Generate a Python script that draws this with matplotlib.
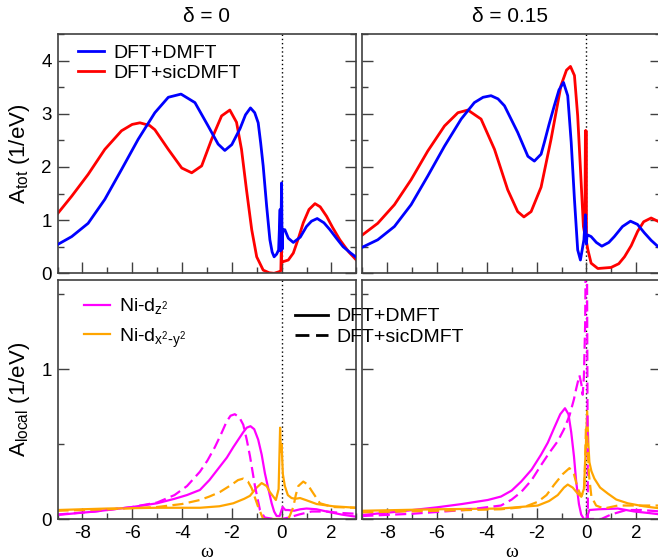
import matplotlib
matplotlib.use("Agg")
import matplotlib.pyplot as plt
from matplotlib.lines import Line2D
from matplotlib.ticker import MultipleLocator

plt.rcParams["font.family"] = ["Liberation Sans", "DejaVu Sans"]
plt.rcParams["axes.unicode_minus"] = False

# ---- data (omega in eV, spectra in 1/eV) ----
# total spectral function, delta = 0
TOT0_DMFT_W = [-9.0, -8.43, -7.77, -7.10, -6.43, -5.76, -5.09, -4.55, -4.04, -3.48, -2.95,
               -2.55, -2.28, -2.0, -1.67, -1.45, -1.25, -1.08, -0.94, -0.84, -0.74, -0.6,
               -0.47, -0.38, -0.30, -0.2, -0.12, -0.06, -0.04, 0.0, 0.02, 0.05, 0.13, 0.27,
               0.47, 0.75, 1.0, 1.2, 1.43, 1.7, 1.94, 2.2, 2.47, 2.75, 3.0]
TOT0_DMFT_A = [0.54, 0.69, 0.94, 1.39, 1.95, 2.52, 3.02, 3.31, 3.37, 3.21, 2.77,
               2.43, 2.31, 2.42, 2.72, 2.98, 3.11, 3.02, 2.83, 2.45, 2.02, 1.26,
               0.63, 0.4, 0.31, 0.36, 0.44, 1.2, 0.42, 1.7, 0.45, 0.82, 0.82, 0.66,
               0.58, 0.68, 0.88, 0.98, 1.03, 0.95, 0.82, 0.66, 0.5, 0.39, 0.3]
TOT0_SIC_W = [-9.0, -8.43, -7.77, -7.10, -6.43, -6.0, -5.69, -5.3, -5.09, -4.55, -4.01,
              -3.61, -3.21, -2.81, -2.41, -2.08, -1.81, -1.61, -1.41, -1.2, -1.0, -0.74,
              -0.5, -0.3, -0.1, -0.03, -0.01, 0.0, 0.03, 0.07, 0.27, 0.47, 0.67, 0.87,
              1.1, 1.34, 1.55, 1.81, 2.05, 2.34, 2.7, 3.0]
TOT0_SIC_A = [1.12, 1.45, 1.86, 2.33, 2.68, 2.80, 2.83, 2.78, 2.70, 2.33, 1.98,
              1.89, 2.02, 2.52, 2.96, 3.07, 2.84, 2.33, 1.57, 0.82, 0.31, 0.06,
              0.01, 0.0, 0.03, 0.05, 0.53, 0.2, 0.22, 0.22, 0.25, 0.38, 0.65, 0.95,
              1.2, 1.31, 1.25, 1.07, 0.86, 0.63, 0.4, 0.25]

# total spectral function, delta = 0.15
TOT15_DMFT_W = [-9.0, -8.38, -7.71, -7.04, -6.37, -5.70, -5.03, -4.50, -4.15, -3.83, -3.55,
                -3.29, -2.76, -2.35, -2.09, -1.82, -1.69, -1.5, -1.29, -1.1, -0.92, -0.75,
                -0.61, -0.48, -0.35, -0.24, -0.1, -0.04, 0.0, 0.02, 0.06, 0.19, 0.4, 0.62,
                0.9, 1.12, 1.45, 1.77, 2.05, 2.33, 2.6, 3.0]
TOT15_DMFT_A = [0.49, 0.63, 0.88, 1.29, 1.83, 2.39, 2.90, 3.21, 3.31, 3.34, 3.28,
                3.15, 2.65, 2.20, 2.11, 2.24, 2.46, 2.8, 3.15, 3.45, 3.59, 3.34,
                2.46, 1.39, 0.44, 0.25, 0.63, 1.10, 0.55, 0.68, 0.72, 0.69, 0.58, 0.51,
                0.58, 0.69, 0.88, 0.98, 0.92, 0.76, 0.62, 0.45]
TOT15_SIC_W = [-9.0, -8.38, -7.71, -7.04, -6.37, -5.70, -5.16, -4.76, -4.23, -3.69, -3.16,
               -2.76, -2.51, -2.22, -1.82, -1.42, -1.02, -0.80, -0.64, -0.48, -0.35, -0.21,
               -0.12, -0.06, -0.04, -0.03, -0.015, 0.0, 0.06, 0.19, 0.46, 0.99, 1.3, 1.53,
               1.8, 2.06, 2.3, 2.6, 3.0]
TOT15_SIC_A = [0.72, 0.94, 1.29, 1.76, 2.30, 2.77, 3.02, 3.07, 2.90, 2.33, 1.57,
               1.16, 1.06, 1.16, 1.62, 2.52, 3.53, 3.82, 3.89, 3.72, 2.96, 1.70,
               0.88, 0.72, 2.68, 0.75, 2.68, 0.6, 0.44, 0.19, 0.09, 0.11, 0.18, 0.31,
               0.52, 0.79, 0.97, 1.04, 0.95]

# local spectral functions, delta = 0
LOC0_Z2_DMFT_W = [-9.0, -7.5, -6.0, -5.0, -4.3, -3.8, -3.28, -2.9, -2.48, -2.2, -1.94,
                  -1.74, -1.54, -1.4, -1.25, -1.1, -0.94, -0.8, -0.67, -0.53, -0.40, -0.3,
                  -0.2, -0.08, 0.04, 0.15, 0.27, 0.5, 0.75, 1.0, 1.4, 1.81, 2.4, 3.0]
LOC0_Z2_DMFT_A = [0.027, 0.05, 0.08, 0.105, 0.135, 0.16, 0.194, 0.26, 0.35, 0.41, 0.48,
                  0.53, 0.58, 0.61, 0.62, 0.6, 0.53, 0.43, 0.305, 0.2, 0.105, 0.05,
                  0.02, 0.02, 0.08, 0.06, 0.06, 0.055, 0.065, 0.07, 0.065, 0.05, 0.03, 0.015]
LOC0_Z2_SIC_W = [-9.0, -7.5, -6.0, -5.0, -4.3, -3.8, -3.28, -2.98, -2.68, -2.45, -2.21,
                 -2.05, -1.88, -1.7, -1.54, -1.4, -1.27, -1.07, -0.87, -0.68, -0.3, 0.0,
                 0.3, 0.7, 1.2, 1.8, 2.4, 3.0]
LOC0_Z2_SIC_A = [0.03, 0.05, 0.08, 0.11, 0.16, 0.22, 0.316, 0.39, 0.48, 0.56, 0.65,
                 0.69, 0.70, 0.68, 0.63, 0.53, 0.42, 0.22, 0.06, 0.01, 0.0, 0.0,
                 0.01, 0.03, 0.05, 0.05, 0.04, 0.035]
LOC0_X2Y2_DMFT_W = [-9.0, -7.0, -5.0, -3.28, -2.5, -1.94, -1.5, -1.27, -1.0, -0.80, -0.6,
                    -0.47, -0.23, -0.12, -0.06, -0.03, 0.0, 0.05, 0.13, 0.25, 0.40, 0.55,
                    0.74, 1.0, 1.41, 2.07, 3.0]
LOC0_X2Y2_DMFT_A = [0.06, 0.07, 0.075, 0.075, 0.085, 0.105, 0.135, 0.155, 0.21, 0.24, 0.22,
                    0.18, 0.127, 0.2, 0.61, 0.45, 0.5, 0.3, 0.22, 0.16, 0.14, 0.135,
                    0.14, 0.125, 0.10, 0.085, 0.075]
LOC0_X2Y2_SIC_W = [-9.0, -7.0, -5.0, -4.0, -3.28, -2.9, -2.48, -2.0, -1.75, -1.54, -1.35,
                   -1.2, -0.94, -0.74, -0.5, 0.0, 0.3, 0.47, 0.57, 0.67, 0.87, 1.05,
                   1.2, 1.54, 2.07, 3.0]
LOC0_X2Y2_SIC_A = [0.055, 0.065, 0.08, 0.1, 0.127, 0.15, 0.18, 0.23, 0.26, 0.27, 0.25,
                   0.205, 0.08, 0.0, 0.0, 0.0, 0.01, 0.08, 0.16, 0.22, 0.25, 0.23,
                   0.19, 0.105, 0.08, 0.075]

# local spectral functions, delta = 0.15
LOC15_Z2_DMFT_W = [-9.0, -7.5, -6.0, -5.0, -3.96, -3.43, -3.0, -2.62, -2.2, -1.82, -1.55,
                   -1.29, -1.05, -0.86, -0.72, -0.61, -0.5, -0.41, -0.3, -0.21, -0.1, 0.0,
                   0.12, 0.5, 1.26, 1.93, 2.5, 3.0]
LOC15_Z2_DMFT_A = [0.027, 0.05, 0.078, 0.1, 0.127, 0.15, 0.19, 0.25, 0.33, 0.43, 0.51,
                   0.61, 0.70, 0.74, 0.70, 0.58, 0.42, 0.25, 0.1, 0.03, 0.0, 0.0,
                   0.06, 0.065, 0.07, 0.05, 0.04, 0.03]
LOC15_Z2_SIC_W = [-9.0, -7.0, -4.9, -3.43, -3.0, -2.62, -2.2, -1.82, -1.5, -1.15, -0.9,
                  -0.68, -0.5, -0.41, -0.28, -0.2, -0.15, -0.1, -0.05, -0.02, 0.02, 0.06,
                  0.3, 0.6, 0.99, 1.6, 2.2, 3.0]
LOC15_Z2_SIC_A = [0.02, 0.035, 0.06, 0.09, 0.13, 0.18, 0.26, 0.36, 0.44, 0.52, 0.6,
                  0.69, 0.8, 0.87, 0.96, 0.9, 0.83, 0.95, 1.3, 1.9, 1.9, 0.0,
                  0.0, 0.0, 0.03, 0.06, 0.06, 0.05]
LOC15_X2Y2_DMFT_W = [-9.0, -6.0, -3.43, -1.95, -1.5, -1.15, -0.9, -0.75, -0.55, -0.35, -0.21,
                     -0.1, -0.03, 0.03, 0.08, 0.12, 0.2, 0.32, 0.55, 0.86, 1.2, 1.66,
                     2.3, 3.0]
LOC15_X2Y2_DMFT_A = [0.055, 0.065, 0.07, 0.09, 0.12, 0.16, 0.21, 0.23, 0.21, 0.17, 0.15,
                     0.2, 0.45, 0.72, 0.5, 0.38, 0.32, 0.27, 0.21, 0.17, 0.13, 0.105,
                     0.085, 0.07]
LOC15_X2Y2_SIC_W = [-9.0, -6.0, -3.43, -2.5, -1.95, -1.6, -1.29, -0.95, -0.68, -0.5, -0.35,
                    -0.2, -0.08, -0.02, 0.03, 0.1, 0.2, 0.39, 0.7, 1.26, 2.0, 3.0]
LOC15_X2Y2_SIC_A = [0.045, 0.055, 0.065, 0.08, 0.115, 0.16, 0.23, 0.3, 0.34, 0.3, 0.205,
                    0.15, 0.2, 0.6, 0.55, 0.3, 0.15, 0.09, 0.07, 0.09, 0.09, 0.09]

PANEL_TITLES = ["\u03b4 = 0", "\u03b4 = 0.15"]
METHOD_LABELS = ["DFT+DMFT", "DFT+sicDMFT"]
ORBITAL_LABELS = [r"Ni-d$_{\mathregular{z^2}}$", r"Ni-d$_{\mathregular{x^2\text{-}y^2}}$"]

BLUE = "#0000ff"
RED = "#ff0000"
MAGENTA = "#ff00ff"
ORANGE = "#ffa500"
FRAME = "#404040"
DASH = (0, (5, 2.4))

W, H = 658, 560


def box(x0, y0, x1, y1):
    # pixel box -> figure fraction rect
    return [x0 / W, 1 - y1 / H, (x1 - x0) / W, (y1 - y0) / H]


def style_axes(ax, ymax, left_labels, bottom_labels):
    ax.set_xlim(-9, 3)
    ax.set_ylim(0, ymax)
    ax.xaxis.set_major_locator(MultipleLocator(2))
    ax.xaxis.set_minor_locator(MultipleLocator(1))
    ax.yaxis.set_major_locator(MultipleLocator(1))
    ax.yaxis.set_minor_locator(MultipleLocator(0.5))
    ax.tick_params(which="both", direction="in", top=False, right=True,
                   color=FRAME, width=1.0, labelsize=13.5,
                   labelleft=left_labels, labelbottom=bottom_labels)
    ax.tick_params(which="major", length=8, pad=4)
    ax.tick_params(which="minor", length=4)
    for sp in ax.spines.values():
        sp.set_color(FRAME)
        sp.set_linewidth(1.2)
    ax.axvline(0, color="black", linestyle=(0, (1, 2)), linewidth=1.0, zorder=1)


fig = plt.figure(figsize=(6.58, 5.6), dpi=100)
ax_tl = fig.add_axes(box(57.5, 34, 356.3, 273.3))
ax_tr = fig.add_axes(box(362.3, 34, 661.1, 273.3))
ax_bl = fig.add_axes(box(57.5, 279.5, 356.3, 519))
ax_br = fig.add_axes(box(362.3, 279.5, 661.1, 519))

style_axes(ax_tl, 4.5, True, False)
style_axes(ax_tr, 4.5, False, False)
style_axes(ax_bl, 1.6, True, True)
style_axes(ax_br, 1.6, False, True)

# top row: total spectra
ax_tl.plot(TOT0_DMFT_W, TOT0_DMFT_A, color=BLUE, lw=2.0, label=METHOD_LABELS[0], zorder=3)
ax_tl.plot(TOT0_SIC_W, TOT0_SIC_A, color=RED, lw=2.0, label=METHOD_LABELS[1], zorder=2)
ax_tr.plot(TOT15_DMFT_W, TOT15_DMFT_A, color=BLUE, lw=2.0, zorder=3)
ax_tr.plot(TOT15_SIC_W, TOT15_SIC_A, color=RED, lw=2.0, zorder=2)

# bottom row: orbital-resolved spectra
ax_bl.plot(LOC0_Z2_DMFT_W, LOC0_Z2_DMFT_A, color=MAGENTA, lw=1.6, label=ORBITAL_LABELS[0])
ax_bl.plot(LOC0_X2Y2_DMFT_W, LOC0_X2Y2_DMFT_A, color=ORANGE, lw=1.6, label=ORBITAL_LABELS[1])
ax_bl.plot(LOC0_Z2_SIC_W, LOC0_Z2_SIC_A, color=MAGENTA, lw=1.6, linestyle=DASH)
ax_bl.plot(LOC0_X2Y2_SIC_W, LOC0_X2Y2_SIC_A, color=ORANGE, lw=1.6, linestyle=DASH)

ax_br.plot(LOC15_Z2_DMFT_W, LOC15_Z2_DMFT_A, color=MAGENTA, lw=1.6)
ax_br.plot(LOC15_X2Y2_DMFT_W, LOC15_X2Y2_DMFT_A, color=ORANGE, lw=1.6)
ax_br.plot(LOC15_Z2_SIC_W, LOC15_Z2_SIC_A, color=MAGENTA, lw=1.6, linestyle=DASH)
ax_br.plot(LOC15_X2Y2_SIC_W, LOC15_X2Y2_SIC_A, color=ORANGE, lw=1.6, linestyle=DASH)

# titles and axis labels
fig.text(206.9 / W, 1 - 17 / H, PANEL_TITLES[0], ha="center", va="center", fontsize=15)
fig.text(510 / W, 1 - 17 / H, PANEL_TITLES[1], ha="center", va="center", fontsize=15)

ax_tl.set_ylabel(r"A$_{\mathregular{tot}}$ (1/eV)", fontsize=16)
ax_bl.set_ylabel(r"A$_{\mathregular{local}}$ (1/eV)", fontsize=16)
ax_tl.yaxis.set_label_coords(-0.086, 0.5)
ax_bl.yaxis.set_label_coords(-0.086, 0.5)
for ax in (ax_bl, ax_br):
    ax.set_xlabel("\u03c9", fontsize=14, family="Liberation Serif", labelpad=2)

# legends
ax_tl.legend(loc="upper left", bbox_to_anchor=(0.033, 1.0), frameon=False, fontsize=14,
             handlelength=1.35, handletextpad=0.45, labelspacing=0.1, borderaxespad=0.15)
ax_bl.legend(loc="upper left", bbox_to_anchor=(0.03, 1.0), frameon=False, fontsize=14,
             handlelength=1.35, handletextpad=0.45, labelspacing=0.45, borderaxespad=0.5)
style_handles = [Line2D([], [], color="black", lw=2.0),
                 Line2D([], [], color="black", lw=2.0, linestyle=DASH)]
fig.legend(style_handles, METHOD_LABELS, loc="upper left",
           bbox_to_anchor=(287 / W, 1 - 300 / H), frameon=False, fontsize=14,
           handlelength=1.7, handletextpad=0.45, labelspacing=0.15, borderaxespad=0.0)

fig.savefig("out.png", dpi=100)
plt.close(fig)
